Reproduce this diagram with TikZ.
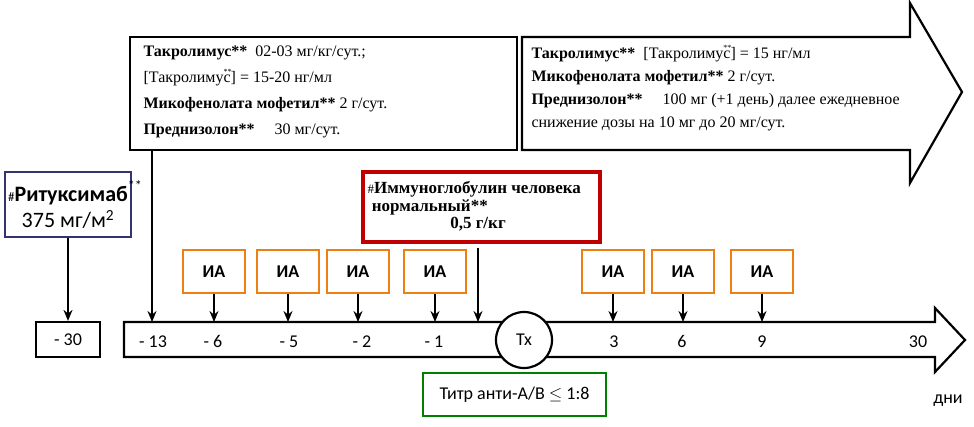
\documentclass[tikz,border=0pt]{standalone}
\usepackage{fontspec}
\usetikzlibrary{arrows.meta}
\setmainfont{Liberation Serif}
\newfontfamily\carl{Carlito}
\begin{document}
\begin{tikzpicture}[x=1pt,y=-1pt,
  ser/.style={font=\fontsize{16}{19}\selectfont},
  ia/.style={draw=orange!70!brown,line width=2pt,minimum width=62pt,minimum height=43pt,font=\carl\fontsize{18}{20}\selectfont\bfseries},
  lbl/.style={font=\carl\fontsize{18}{20}\selectfont},
  arr/.style={-{Stealth[length=11pt,width=9pt]},line width=1.6pt}]
\useasboundingbox (0,0) rectangle (974,426);
% top left box
\node[draw,line width=2.2pt,minimum width=387pt,minimum height=113pt,inner sep=0] (b1) at (323.5,93.5) {};
\node[ser,anchor=west,align=left] (t1) at (140,92) {%
\textbf{Такролимус**}\ \ 02-03 мг/кг/сут.;\\[7pt]
[Такролиму\rlap{\raisebox{1.1ex}{\footnotesize **}}с] = 15-20 нг/мл\\[7pt]
\textbf{Микофенолата мофетил**} 2 г/сут.\\[7pt]
\textbf{Преднизолон**}\quad\ 30 мг/сут.};
% big arrow
\draw[line width=2.2pt,line join=miter] (522,37) -- (910,37) -- (910,3) -- (962,92) -- (910,183) -- (910,150) -- (522,150) -- cycle;
\node[ser,anchor=west,align=left] (t2) at (528,88) {%
\textbf{Такролимус**}\ \ [Такролиму\rlap{\raisebox{1.1ex}{\footnotesize **}}с] = 15 нг/мл\\[4pt]
\textbf{Микофенолата мофетил**} 2 г/сут.\\[4pt]
\textbf{Преднизолон**}\quad\ 100 мг (+1 день) далее ежедневное\\[4pt]
снижение дозы на 10 мг до 20 мг/сут.};
% rituximab
\node[draw=blue!30!black!80,line width=2.2pt,minimum width=124pt,minimum height=65pt,align=center,font=\carl\fontsize{22}{26}\selectfont] (r) at (68,204.5)
 {{\fontsize{13}{13}\selectfont\#}\textbf{Ритуксимаб}\rlap{\raisebox{1.1ex}{\fontsize{14}{14}\selectfont **}}\\375 мг/м\textsuperscript{2}};
\node[draw,line width=2.2pt,minimum width=64pt,minimum height=35pt,lbl] (m30) at (68,339.5) {- 30};
\draw[arr] (r.south) -- (m30.north);
% red box
\node[draw=red!75!black,line width=3.5pt,minimum width=237pt,minimum height=70pt,inner sep=0] (red) at (481.5,207) {};
\node[font=\fontsize{17}{18}\selectfont\bfseries,align=left,anchor=north west] (rt) at (364,178)
 {{\normalfont\fontsize{13}{13}\selectfont\#}Иммуноглобулин человека\\ \ нормальный**};
\node[font=\fontsize{17}{18}\selectfont\bfseries] (rt2) at (478,224) {0,5 г/кг};
% timeline
\draw[line width=2.2pt,line join=miter] (124,322) -- (935,322) -- (935,308) -- (965,340) -- (935,372) -- (935,357) -- (124,357) -- cycle;
\node[draw,circle,line width=2.2pt,fill=white,minimum size=56pt,lbl,inner sep=0] (tx) at (524,340) {Tx};
\coordinate (c13) at (152,322);
\coordinate (cig) at (478,322);
\coordinate (tig) at (478,248);
\draw[arr] (b1.south west -| c13) -- (c13);
\draw[arr] (tig) -- (cig);
\foreach \x/\t in {153/- 13,213/- 6,289/- 5,362/- 2,434/- 1,614/3,682/6,762/9,918/30}
  \node[lbl,anchor=base] (l\x) at (\x,347) {\t};
\foreach \x in {214,288,358,435,613,683,762}{
  \node[ia] (ia\x) at (\x,271.5) {ИА};
  \coordinate (p\x) at (\x,322);
  \draw[arr] (ia\x.south) -- (p\x);}
% green box
\node[draw=green!50!black,line width=2pt,minimum width=183pt,minimum height=43pt,lbl] (g) at (514.5,394.5) {Титр анти-A/B \ensuremath{\leq} 1:8};
\node[lbl] (dni) at (948,401) {дни};
\end{tikzpicture}
\end{document}
